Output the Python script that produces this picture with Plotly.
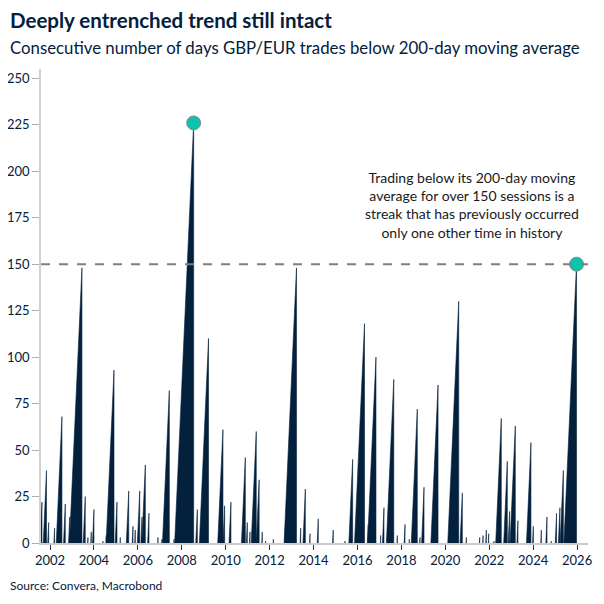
import pandas as pd
import plotly.graph_objects as go
from pandas.tseries.offsets import BDay

# Streaks of consecutive trading days below the 200-day moving average:
# date on which each streak ended (its peak) and its length in sessions
streak_end = [
    "2001-08-20", "2001-11-03", "2001-12-10", "2002-03-18", "2002-07-18", "2002-09-12",
    "2002-11-24", "2003-06-16", "2003-08-10", "2003-09-24", "2003-11-18", "2004-01-02",
    "2004-05-31", "2004-07-24", "2004-11-30", "2005-01-19", "2005-03-15", "2005-08-02",
    "2005-10-12", "2005-11-19", "2006-02-01", "2006-03-11", "2006-05-05", "2006-07-05",
    "2006-12-02", "2007-02-06", "2007-06-08", "2007-08-25", "2008-07-17", "2008-09-16",
    "2009-03-21", "2009-11-16", "2009-12-14", "2010-03-29", "2010-11-23", "2010-12-26",
    "2011-02-09", "2011-05-24", "2011-07-11", "2011-09-01", "2011-10-27", "2012-03-04",
    "2012-09-25", "2013-03-23", "2013-06-01", "2013-08-17", "2013-11-03", "2014-03-20",
    "2014-11-24", "2015-06-08", "2015-10-13", "2016-04-27", "2016-06-29", "2016-11-04",
    "2017-01-21", "2017-03-17", "2017-08-27", "2017-10-25", "2018-03-02", "2018-05-12",
    "2018-09-22", "2018-11-06", "2019-01-12", "2019-09-02", "2020-08-11", "2020-10-10",
    "2020-12-16", "2021-07-26", "2021-09-20", "2021-11-13", "2021-12-23", "2022-03-21",
    "2022-07-20", "2022-10-28", "2022-12-06", "2023-03-10", "2023-04-23", "2023-11-25",
    "2024-01-04", "2024-05-16", "2024-08-18", "2024-10-29", "2025-01-24", "2025-03-21",
    "2025-05-17", "2025-12-22",
]
streak_len = [
    22, 39, 11, 8, 68, 21,
    14, 148, 25, 3, 6, 18,
    1, 4, 93, 22, 3, 28,
    9, 7, 28, 14, 42, 16,
    3, 2, 82, 2, 226, 18,
    110, 61, 20, 22, 46, 11,
    6, 60, 34, 6, 1, 2,
    12, 148, 8, 29, 5, 13,
    7, 1, 45, 118, 10, 100,
    4, 19, 88, 4, 10, 2,
    72, 3, 30, 85, 130, 27,
    3, 3, 4, 7, 5, 1,
    67, 44, 17, 63, 12, 54,
    9, 7, 14, 1, 16, 19,
    39, 150,
]
threshold = 150
y_ticks = [0, 25, 50, 75, 100, 125, 150, 175, 200, 225, 250]
x_tick_years = list(range(2002, 2027, 2))

title = "Deeply entrenched trend still intact"
subtitle = "Consecutive number of days GBP/EUR trades below 200-day moving average"
note = ("Trading below its 200-day moving<br>average for over 150 sessions is a<br>"
        "streak that has previously occurred<br>only one other time in history")
source = "Source: Convera, Macrobond"

NAVY = "#03203d"
TEAL = "#0cc4ad"
FONT = "Lato"

# Build one triangle per streak: count rises one per session, then resets
xs, ys = [], []
for end, n in zip(streak_end, streak_len):
    e = pd.Timestamp(end)
    s = e - BDay(n)
    xs += [s, e, e, None]
    ys += [0, n, 0, None]

fig = go.Figure()
fig.add_trace(go.Scatter(
    x=xs, y=ys, mode="lines", fill="toself", fillcolor=NAVY,
    line=dict(color=NAVY, width=0.6), connectgaps=False, hoverinfo="skip",
    showlegend=False,
))

# Highlight the record streak and the latest one
i_max = streak_len.index(max(streak_len))
i_last = len(streak_len) - 1
fig.add_trace(go.Scatter(
    x=[streak_end[i_max], streak_end[i_last]],
    y=[streak_len[i_max], streak_len[i_last]],
    mode="markers",
    marker=dict(color=TEAL, size=14, line=dict(color="#8c8c8c", width=1)),
    showlegend=False,
))

fig.add_shape(type="line", xref="paper", x0=0, x1=1, yref="y", y0=threshold, y1=threshold,
              line=dict(color="#7f7f7f", width=2, dash="dash"))

fig.add_annotation(xref="paper", yref="paper", x=-0.06, y=1.1034, xanchor="left",
                   yanchor="middle", showarrow=False, text="<b>" + title + "</b>",
                   font=dict(family=FONT, size=20.5, color=NAVY))
fig.add_annotation(xref="paper", yref="paper", x=-0.06, y=1.0464, xanchor="left",
                   yanchor="middle", showarrow=False, text=subtitle,
                   font=dict(family=FONT, size=16.8, color=NAVY))
fig.add_annotation(xref="paper", yref="paper", x=0.788, y=0.713, xanchor="center",
                   yanchor="middle", showarrow=False, text=note, align="center",
                   font=dict(family=FONT, size=14, color="#1a1a1a"))
fig.add_annotation(xref="paper", yref="paper", x=-0.06, y=-0.0907, xanchor="left",
                   yanchor="middle", showarrow=False, text=source,
                   font=dict(family=FONT, size=12, color=NAVY))

fig.update_layout(
    width=596, height=596,
    margin=dict(l=33, r=16, t=61, b=61),
    paper_bgcolor="white", plot_bgcolor="white",
    font=dict(family=FONT, color=NAVY),
    xaxis=dict(
        type="date", automargin=False,
        range=["2001-08-04", "2026-07-01"],
        tickvals=[f"{y}-01-01" for y in x_tick_years],
        ticktext=[str(y) for y in x_tick_years],
        ticks="outside", ticklen=5, tickcolor="#333333",
        showline=True, linecolor="#cccccc", linewidth=1.5,
        showgrid=False, zeroline=False,
        tickfont=dict(size=13, color=NAVY),
    ),
    yaxis=dict(
        automargin=False,
        range=[0, 255],
        tickvals=y_ticks,
        ticks="outside", ticklen=7, tickcolor="#b0b0b0",
        showline=True, linecolor="#d0d0d0", linewidth=1.5,
        showgrid=False, zeroline=False,
        tickfont=dict(size=13, color=NAVY),
    ),
)

fig.write_html("out.html")
